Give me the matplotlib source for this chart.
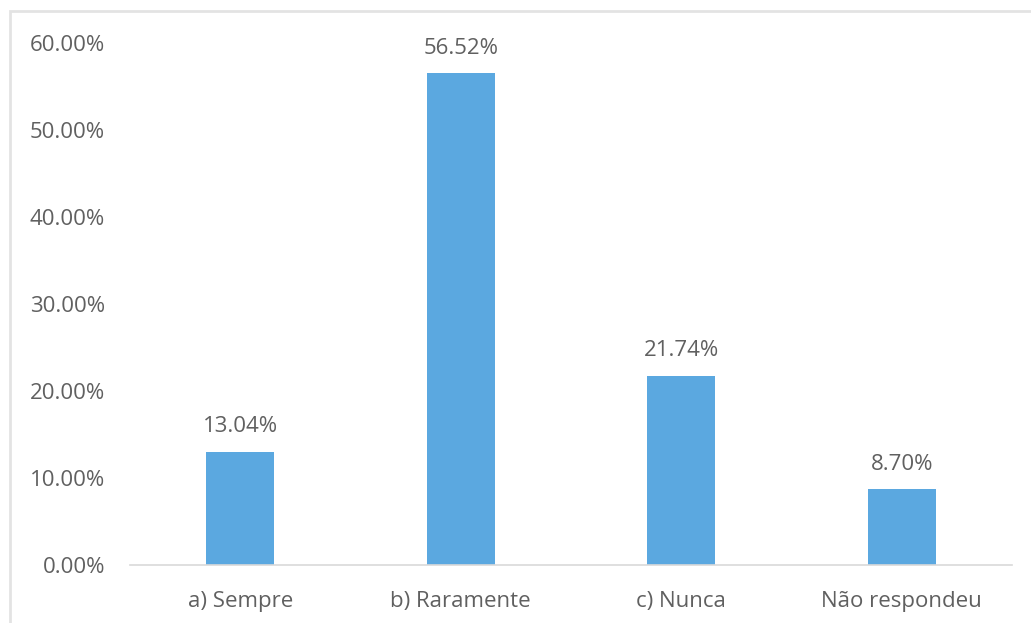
import matplotlib
matplotlib.use("Agg")
import matplotlib.pyplot as plt
from matplotlib.patches import Rectangle

categories = ["a) Sempre", "b) Raramente", "c) Nunca", "Não respondeu"]
values = [13.04, 56.52, 21.74, 8.70]
yticks = [0, 10, 20, 30, 40, 50, 60]

W, H = 1031, 623
fig = plt.figure(figsize=(W / 100, H / 100), dpi=100)
fig.patch.set_facecolor("white")

# light frame around the chart area
fig.add_artist(Rectangle((10 / W, -0.05), 1.2, 1 - 11 / H + 0.05,
                         transform=fig.transFigure, fill=False,
                         edgecolor="#e3e3e3", linewidth=2))

ax = fig.add_axes([130 / W, 1 - 565 / H, (1012 - 130) / W, (565 - 43) / H])
text_color = "#606060"
font = "Open Sans"
fs = 16

x = range(len(categories))
bars = ax.bar(x, values, width=0.31, color="#5BA8E0")
ax.set_xlim(-0.5, len(categories) - 0.5)
ax.set_ylim(0, 60)
ax.set_yticks(yticks)
ax.set_yticklabels([f"{v:.2f}%" for v in yticks], family=font,
                   fontsize=fs, color=text_color)
ax.set_xticks(list(x))
ax.set_xticklabels(categories, family=font, fontsize=fs, color=text_color)
ax.tick_params(axis="both", length=0)
ax.tick_params(axis="y", pad=18)
ax.tick_params(axis="x", pad=19)

for side in ["top", "right", "left"]:
    ax.spines[side].set_visible(False)
ax.spines["bottom"].set_color("#d9d9d9")
ax.spines["bottom"].set_linewidth(1.2)

for b, v in zip(bars, values):
    ax.annotate(f"{v:.2f}%", (b.get_x() + b.get_width() / 2, v),
                xytext=(0, 10.5), textcoords="offset points",
                ha="center", va="bottom", family=font,
                fontsize=fs, color=text_color)

fig.savefig("out.png", dpi=100, facecolor="white")
